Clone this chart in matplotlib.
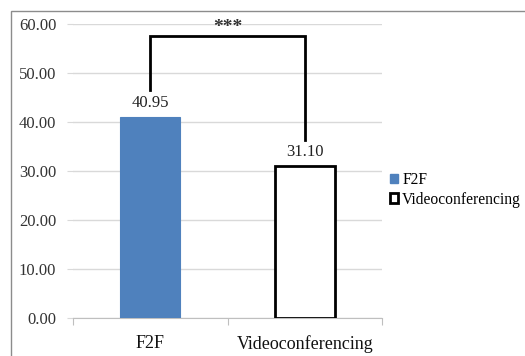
import matplotlib.pyplot as plt
from matplotlib.patches import Rectangle

categories = ["F2F", "Videoconferencing"]
values = [40.95, 31.10]
yticks = [0, 10, 20, 30, 40, 50, 60]

plt.rcParams["font.family"] = ["Liberation Serif", "DejaVu Serif"]

W, H = 525, 356
fig = plt.figure(figsize=(W / 100, H / 100), dpi=100)

# outer chart frame (cut off at right and bottom like the original)
fig.patches.append(Rectangle((11 / W, -0.1), 1.2, 1 - 11 / H + 0.1,
                             transform=fig.transFigure, fill=False,
                             edgecolor="#8c8c8c", linewidth=1.0))

ax = fig.add_axes([73 / W, 1 - 318 / H, (382 - 73) / W, (318 - 24) / H])

x = [0, 1]
ax.bar(x[0], values[0], width=0.39, color="#4f81bd", edgecolor="#4f81bd",
       linewidth=0.8, zorder=3)
ax.bar(x[1], values[1], width=0.39, color="white", edgecolor="black",
       linewidth=2.0, zorder=3)

for xi, v in zip(x, values):
    ax.text(xi, v + 1.2, f"{v:.2f}", ha="center", va="bottom", fontsize=12,
            color="#222222")

# significance bracket
ax.plot([x[0], x[0], x[1], x[1]], [46.5, 57.6, 57.6, 36.3], color="black",
        linewidth=2.0, solid_joinstyle="miter", zorder=4)
ax.text(0.5, 57.6, "***", ha="center", va="bottom", fontsize=14,
        fontweight="bold", color="#333333")

ax.set_xlim(-0.5, 1.5)
ax.set_ylim(0, 60)
ax.set_yticks(yticks)
ax.set_yticklabels([f"{t:.2f}" for t in yticks], fontsize=12, color="#333333")
ax.yaxis.grid(True, color="#d9d9d9", linewidth=1.0, zorder=0)
ax.tick_params(axis="y", length=4, color="#d9d9d9", pad=8)

ax.set_xticks([-0.5, 0.5, 1.5])
ax.set_xticklabels([])
ax.set_xticks(x, minor=True)
ax.set_xticklabels(categories, minor=True, fontsize=13, color="#111111")
ax.tick_params(axis="x", which="major", length=5, color="#bfbfbf")
ax.tick_params(axis="x", which="minor", length=0, pad=12)

for s in ["left", "top", "right"]:
    ax.spines[s].set_visible(False)
ax.spines["bottom"].set_color("#bfbfbf")

handles = [
    Rectangle((0, 0), 1, 1, facecolor="#4f81bd", edgecolor="#4f81bd"),
    Rectangle((0, 0), 1, 1, facecolor="white", edgecolor="black", linewidth=2),
]
fig.legend(handles, categories, loc="upper left",
           bbox_to_anchor=(382 / W, 1 - 164 / H), frameon=False,
           fontsize=11.2, handlelength=0.55, handleheight=0.55,
           handletextpad=0.25, labelspacing=0.25, borderpad=0)

fig.savefig("out.png", dpi=100)
